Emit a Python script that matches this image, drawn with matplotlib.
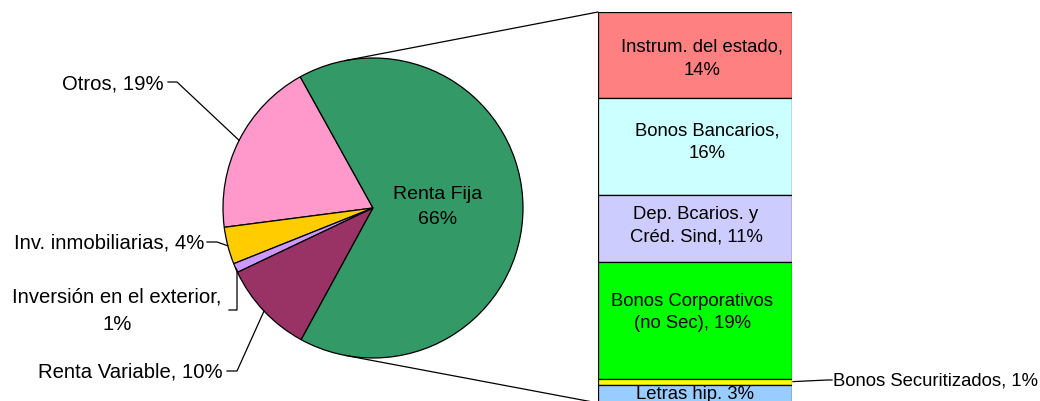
import numpy as np
import matplotlib
matplotlib.use('Agg')
import matplotlib.pyplot as plt
from matplotlib.patches import ConnectionPatch

plt.rcParams['font.family'] = ['Liberation Sans', 'DejaVu Sans']

# pie data
pie_labels = ['Otros, 19%', 'Inv. inmobiliarias, 4%', 'Inversión en el exterior,\n1%',
              'Renta Variable, 10%', 'Renta Fija\n66%']
pie_vals = [19, 4, 1, 10, 66]
pie_cols = ['#FF99CC', '#FFCC00', '#CC99FF', '#993366', '#339966']

# bar (detalle renta fija)
bar_labels = ['Instrum. del estado,\n14%', 'Bonos Bancarios,\n16%', 'Dep. Bcarios. y\nCréd. Sind, 11%',
              'Bonos Corporativos\n(no Sec), 19%', 'Bonos Securitizados, 1%', 'Letras hip. 3%']
bar_vals = [14, 16, 11, 19, 1, 3]
bar_cols = ['#FF8080', '#CCFFFF', '#CCCCFF', '#00FF00', '#FFFF00', '#99CCFF']

W, H = 1040, 402
fig = plt.figure(figsize=(W / 100, H / 100), dpi=100)

# pie axes in pixel units (y up)
ax = fig.add_axes([0, 0, 1, 1])
cx, cy, r = 373, H - 209, 150
wedges, _ = ax.pie(pie_vals, colors=pie_cols, startangle=119, counterclock=True,
                   center=(cx, cy), radius=r, frame=True,
                   wedgeprops=dict(edgecolor='black', linewidth=0.9))
ax.set_xlim(0, W)
ax.set_ylim(0, H)
ax.set_aspect('equal')
ax.axis('off')

def edge_pt(w):
    a = np.deg2rad((w.theta1 + w.theta2) / 2)
    return cx + r * np.cos(a), cy + r * np.sin(a)

fs = 14.6
lw = 0.9
# Otros
ex, ey = edge_pt(wedges[0])
ax.text(164, H - 84, pie_labels[0], ha='right', va='center', fontsize=fs)
ax.plot([168, 177, ex], [H - 83, H - 83, ey], color='black', lw=lw)
# Inv. inmobiliarias
ex, ey = edge_pt(wedges[1])
ax.text(204, H - 243, pie_labels[1], ha='right', va='center', fontsize=fs)
ax.plot([207, 217, ex], [H - 243, H - 243, ey], color='black', lw=lw)
# Inversion exterior
ex, ey = edge_pt(wedges[2])
ax.text(117, H - 311, pie_labels[2], ha='center', va='center', fontsize=fs, linespacing=1.55)
ax.plot([ex, 237, 237, 229], [ey, ey - 2, H - 311, H - 311], color='black', lw=lw)
# Renta Variable
ex, ey = edge_pt(wedges[3])
ax.text(223, H - 372, pie_labels[3], ha='right', va='center', fontsize=fs)
ax.plot([227, 237, ex], [H - 372, H - 372, ey], color='black', lw=lw)
# Renta Fija
ax.text(438, H - 207, pie_labels[4], ha='center', va='center', fontsize=14, linespacing=1.65)

# bar axes
total = sum(bar_vals)
bx0, bx1, by0, by1 = 598, 792, 13, 404
bax = fig.add_axes([bx0 / W, (H - by1) / H, (bx1 - bx0) / W, (by1 - by0) / H])
bottoms = np.concatenate([[0], np.cumsum(bar_vals)[:-1]])
bax.bar(0, bar_vals, bottom=bottoms, width=1, color=bar_cols, edgecolor='black', linewidth=lw)
bax.set_xlim(-0.5, 0.5)
bax.set_ylim(total, 0)
bax.axis('off')

# small label offsets (pixels: right, down)
offs = [(7, 3), (12, -5), (1, -4), (-3, -9), (0, 0), (0, 0)]
fsb = 13.3
for lab, v, b, (dx, dy) in zip(bar_labels, bar_vals, bottoms, offs):
    if v <= 1:
        continue
    bax.annotate(lab, xy=(0, b + v / 2), xytext=(dx, -dy), textcoords='offset pixels',
                 ha='center', va='center', fontsize=fsb, linespacing=1.43,
                 annotation_clip=False)

# Bonos Securitizados label outside
i = 4
p0 = bax.transData.transform((0.5, bottoms[i] + bar_vals[i] / 2))
ax.text(833, H - 381, bar_labels[i], ha='left', va='center', fontsize=fsb)
ax.plot([p0[0] + 1, 827, 832], [p0[1], H - 381, H - 381], color='black', lw=lw)

# connector lines: tangents from bar corners to the pie
for yb in [0, total]:
    P = bax.transData.transform((-0.5, yb))
    d = P - np.array([cx, cy])
    dist = np.hypot(*d)
    base = np.arctan2(d[1], d[0])
    off = np.arccos(r / dist)
    a = base + off if yb == 0 else base - off
    con = ConnectionPatch(xyA=(cx + r * np.cos(a), cy + r * np.sin(a)), coordsA=ax.transData,
                          xyB=(-0.5, yb), coordsB=bax.transData, color='black', lw=lw)
    fig.add_artist(con)

fig.savefig('out.png', dpi=100)
